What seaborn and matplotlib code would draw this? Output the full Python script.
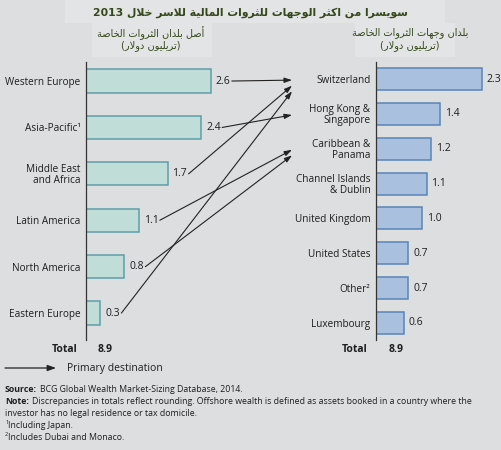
import matplotlib
matplotlib.use("Agg")
import matplotlib.pyplot as plt
import seaborn as sns
import pandas as pd
from matplotlib.patches import ConnectionPatch, Rectangle

# data
sources = ["Western Europe", "Asia-Pacific\u00b9", "Middle East\nand Africa",
           "Latin America", "North America", "Eastern Europe"]
source_values = [2.6, 2.4, 1.7, 1.1, 0.8, 0.3]
destinations = ["Switzerland", "Hong Kong &\nSingapore", "Caribbean &\nPanama",
                "Channel Islands\n& Dublin", "United Kingdom", "United States",
                "Other\u00b2", "Luxembourg"]
dest_values = [2.3, 1.4, 1.2, 1.1, 1.0, 0.7, 0.7, 0.6]
# primary destination index for each source
flows = [0, 1, 0, 2, 2, 0]
total_src = "8.9"
total_dst = "8.9"

title_ar = "سويسرا من اكثر الوجهات للثروات المالية للاسر خلال 2013"
left_head = ["أصل بلدان الثروات الخاصة", "(تريليون دولار)"]
right_head = ["بلدان وجهات الثروات الخاصة", "(تريليون دولار)"]

# --- tiny arabic shaper (matplotlib has no RTL/shaping) ---
FORMS = {
    "ا": ("\ufe8d", "\ufe8e", None, None), "أ": ("\ufe83", "\ufe84", None, None),
    "ب": ("\ufe8f", "\ufe90", "\ufe91", "\ufe92"), "ة": ("\ufe93", "\ufe94", None, None),
    "ت": ("\ufe95", "\ufe96", "\ufe97", "\ufe98"), "ث": ("\ufe99", "\ufe9a", "\ufe9b", "\ufe9c"),
    "ج": ("\ufe9d", "\ufe9e", "\ufe9f", "\ufea0"), "خ": ("\ufea5", "\ufea6", "\ufea7", "\ufea8"),
    "د": ("\ufea9", "\ufeaa", None, None), "ر": ("\ufead", "\ufeae", None, None),
    "س": ("\ufeb1", "\ufeb2", "\ufeb3", "\ufeb4"), "ص": ("\ufeb9", "\ufeba", "\ufebb", "\ufebc"),
    "ك": ("\ufed9", "\ufeda", "\ufedb", "\ufedc"), "ل": ("\ufedd", "\ufede", "\ufedf", "\ufee0"),
    "م": ("\ufee1", "\ufee2", "\ufee3", "\ufee4"), "ن": ("\ufee5", "\ufee6", "\ufee7", "\ufee8"),
    "ه": ("\ufee9", "\ufeea", "\ufeeb", "\ufeec"), "و": ("\ufeed", "\ufeee", None, None),
    "ي": ("\ufef1", "\ufef2", "\ufef3", "\ufef4"),
    "لا": ("\ufefb", "\ufefc", None, None),
}


def shape_word(w):
    chars = []
    i = 0
    while i < len(w):
        if w[i] == "ل" and i + 1 < len(w) and w[i + 1] == "ا":
            chars.append("لا")
            i += 2
        else:
            chars.append(w[i])
            i += 1
    out = []
    for k, c in enumerate(chars):
        if c not in FORMS:
            out.append(c)
            continue
        prev_joins = k > 0 and chars[k - 1] in FORMS and FORMS[chars[k - 1]][2] is not None
        next_joins = (k + 1 < len(chars) and chars[k + 1] in FORMS
                      and FORMS[c][2] is not None)
        iso, fin, ini, med = FORMS[c]
        if prev_joins and next_joins:
            out.append(med)
        elif prev_joins:
            out.append(fin)
        elif next_joins:
            out.append(ini)
        else:
            out.append(iso)
    return "".join(out)


def rtl(s):
    words = s.split(" ")
    res = []
    for w in reversed(words):
        if w.isdigit():
            res.append(w)
        else:
            sw = shape_word(w)[::-1]
            sw = sw.translate(str.maketrans("()", ")("))
            res.append(sw)
    return " ".join(res)


sns.set_style("white")
plt.rcParams["font.family"] = ["Open Sans", "DejaVu Sans"]
bg = "#dcdee0"
txt = "#1e1e1e"

W, H = 501, 450
fig = plt.figure(figsize=(W / 100, H / 100), dpi=100, facecolor=bg)


def fx(px):
    return px / W


def fy(py):
    return 1 - py / H


# lighter header bands
fig.patches.append(Rectangle((fx(65), fy(23)), fx(380), 23 / H, transform=fig.transFigure,
                             facecolor="#e3e4e5", edgecolor="none", zorder=0))
for x0, x1 in [(92, 212), (355, 455)]:
    fig.patches.append(Rectangle((fx(x0), fy(57)), fx(x1 - x0), 34 / H, transform=fig.transFigure,
                                 facecolor="#e3e4e5", edgecolor="none", zorder=0))

green = "#34481a"
fig.text(fx(250), fy(13), rtl(title_ar), ha="center", va="center", fontsize=7.8,
         fontweight="bold", color=green, family="DejaVu Sans")
for (xc, lines) in [(151, left_head), (410, right_head)]:
    fig.text(fx(xc), fy(33), rtl(lines[0]), ha="center", va="center", fontsize=7,
             color=green, family="DejaVu Sans")
    fig.text(fx(xc), fy(46), rtl(lines[1]), ha="center", va="center", fontsize=7,
             color=green, family="DejaVu Sans")

top_px, bot_px = 62, 340
ax1 = fig.add_axes([fx(86), fy(bot_px), fx(150), (bot_px - top_px) / H])
ax2 = fig.add_axes([fx(376), fy(bot_px), fx(124), (bot_px - top_px) / H])

df_src = pd.DataFrame({"region": sources, "value": source_values})
df_dst = pd.DataFrame({"region": destinations, "value": dest_values})

sns.barplot(data=df_src, x="value", y="region", ax=ax1, orient="h", width=0.5,
            color="#c0ddd8", edgecolor="#5f9ea8", linewidth=1.1, saturation=1)
sns.barplot(data=df_dst, x="value", y="region", ax=ax2, orient="h", width=0.63,
            color="#a9c0df", edgecolor="#5a84b6", linewidth=1.1, saturation=1)

ax1.set_xlim(0, 150 / 48)
ax1.set_ylim(5.58, -0.41)
ax2.set_xlim(0, 124 / 46)
ax2.set_ylim(7.49, -0.49)

for ax, vals in [(ax1, source_values), (ax2, dest_values)]:
    ax.set_facecolor("none")
    ax.set_xlabel("")
    ax.set_ylabel("")
    ax.set_xticks([])
    ax.tick_params(axis="y", length=0, pad=4, labelsize=7.2, labelcolor=txt)
    for s in ["top", "right", "bottom"]:
        ax.spines[s].set_visible(False)
    ax.spines["left"].set_color("#333333")
    ax.spines["left"].set_linewidth(0.9)
    ax.bar_label(ax.containers[0], labels=[f"{v:.1f}" for v in vals], padding=3.5,
                 fontsize=7.5, color=txt)
for lab in ax1.get_yticklabels() + ax2.get_yticklabels():
    lab.set_horizontalalignment("right")
    lab.set_multialignment("right")
    lab.set_linespacing(0.95)

# totals
fig.text(fx(65), fy(349), "Total", ha="center", va="center", fontsize=7.5, fontweight="bold", color=txt)
fig.text(fx(105), fy(349), total_src, ha="center", va="center", fontsize=7.5, fontweight="bold", color=txt)
fig.text(fx(355), fy(349), "Total", ha="center", va="center", fontsize=7.5, fontweight="bold", color=txt)
fig.text(fx(396), fy(349), total_dst, ha="center", va="center", fontsize=7.5, fontweight="bold", color=txt)

# flow arrows
arrow_end_x = fx(292)
offsets = {}
for i, (v, d) in enumerate(zip(source_values, flows)):
    k = offsets.get(d, 0)
    offsets[d] = k + 1
    start = (v + 21 / 48, i)
    end_disp = ax2.transData.transform((0, d + 0.03 + 0.16 * k))
    end_fig = fig.transFigure.inverted().transform(end_disp)
    con = ConnectionPatch(xyA=start, coordsA=ax1.transData,
                          xyB=(arrow_end_x, end_fig[1]), coordsB=fig.transFigure,
                          arrowstyle="-|>,head_length=0.45,head_width=0.15",
                          color="#222222", linewidth=0.8, shrinkA=0, shrinkB=0)
    fig.add_artist(con)

# legend arrow
fig.add_artist(ConnectionPatch(xyA=(fx(5), fy(368)), coordsA=fig.transFigure,
                               xyB=(fx(56), fy(368)), coordsB=fig.transFigure,
                               arrowstyle="-|>,head_length=0.5,head_width=0.18",
                               color="#222222", linewidth=0.9))
fig.text(fx(67), fy(368), "Primary destination", ha="left", va="center", fontsize=7.5, color=txt)

# footnotes
fs = 6.3
renderer = fig.canvas.get_renderer()


def footnote(y, bold, rest):
    x = fx(5)
    if bold:
        t = fig.text(x, fy(y), bold, ha="left", va="center", fontsize=fs, fontweight="bold", color=txt)
        bb = t.get_window_extent(renderer)
        x = (bb.x1 + 3) / W
    fig.text(x, fy(y), rest, ha="left", va="center", fontsize=fs, color=txt)


footnote(389, "Source:", "BCG Global Wealth Market-Sizing Database, 2014.")
footnote(401, "Note:", "Discrepancies in totals reflect rounding. Offshore wealth is defined as "
         "assets booked in a country where the")
footnote(413, None, "investor has no legal residence or tax domicile.")
for y, sup, rest in [(425, "1", "Including Japan."), (437, "2", "Includes Dubai and Monaco.")]:
    fig.text(fx(5), fy(y - 2), sup, ha="left", va="center", fontsize=4, color=txt)
    fig.text(fx(8), fy(y), rest, ha="left", va="center", fontsize=fs, color=txt)

fig.savefig("out.png", dpi=100, facecolor=bg)
